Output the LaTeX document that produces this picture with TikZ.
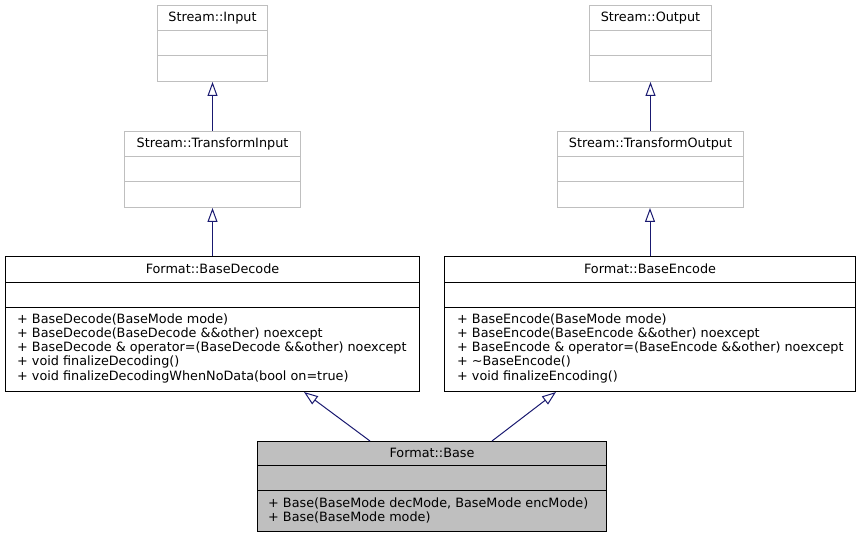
\documentclass[tikz,border=0pt]{standalone}
\usepackage{fontspec}
\setmainfont{DejaVu Sans}
\usetikzlibrary{arrows.meta}
\definecolor{edgeblue}{HTML}{191970}
\definecolor{boxgray}{HTML}{BFBFBF}
\tikzset{
  >={Triangle[open,length=14pt,width=10pt]},
  every node/.style={font=\fontsize{12.8}{14.2}\selectfont},
}
\tikzstyle{cls}=[draw=black,line width=1pt,inner sep=0pt,anchor=north west]
\tikzstyle{ext}=[cls,draw=boxgray]
\tikzstyle{focus}=[cls,fill=boxgray]
\tikzstyle{title}=[anchor=base,inner sep=0pt]
\tikzstyle{members}=[anchor=north west,align=left,inner sep=0pt]
\tikzstyle{inherit}=[edgeblue,line width=1pt,->]

\begin{document}
\begin{tikzpicture}[x=1pt,y=-1pt]
        \useasboundingbox (0,0) rectangle (861,537);
        % stream base classes
        \node[ext,minimum width=110pt,minimum height=76pt] (in) at (157,5) {};
        \node[title] (inT) at ([yshift=-17pt]in.north) {Stream::Input};
        \node[ext,minimum width=176pt,minimum height=76pt] (tin) at (124,131) {};
        \node[title] (tinT) at ([yshift=-17pt]tin.north) {Stream::TransformInput};
        \node[ext,minimum width=122pt,minimum height=76pt] (out) at (589,5) {};
        \node[title] (outT) at ([yshift=-17pt]out.north) {Stream::Output};
        \node[ext,minimum width=186pt,minimum height=76pt] (tout) at (557,131) {};
        \node[title] (toutT) at ([yshift=-17pt]tout.north) {Stream::TransformOutput};
        \foreach \b in {in,tin,out,tout} {
          \draw[boxgray,line width=1pt] ([yshift=-26pt]\b.north west) -- ([yshift=-26pt]\b.north east);
          \draw[boxgray,line width=1pt] ([yshift=-51pt]\b.north west) -- ([yshift=-51pt]\b.north east);
        }
        % format classes
        \node[cls,minimum width=414pt,minimum height=135pt] (dec) at (5,256) {};
        \node[title] (decT) at ([yshift=-17pt]dec.north) {Format::BaseDecode};
        \node[members] (decM) at (17,313.3) {+ BaseDecode(BaseMode mode)\\
          + BaseDecode(BaseDecode \&\&other) noexcept\\
          + BaseDecode \& operator=(BaseDecode \&\&other) noexcept\\
          + void finalizeDecoding()\\
          + void finalizeDecodingWhenNoData(bool on=true)};
        \node[cls,minimum width=411pt,minimum height=135pt] (enc) at (444,256) {};
        \node[title] (encT) at ([yshift=-17pt]enc.north) {Format::BaseEncode};
        \node[members] (encM) at (457,313.3) {+ BaseEncode(BaseMode mode)\\
          + BaseEncode(BaseEncode \&\&other) noexcept\\
          + BaseEncode \& operator=(BaseEncode \&\&other) noexcept\\
          + \textasciitilde BaseEncode()\\
          + void finalizeEncoding()};
        \foreach \b in {dec,enc} {
          \draw[line width=1pt] ([yshift=-26pt]\b.north west) -- ([yshift=-26pt]\b.north east);
          \draw[line width=1pt] ([yshift=-51pt]\b.north west) -- ([yshift=-51pt]\b.north east);
        }
        \node[focus,minimum width=349pt,minimum height=90pt] (base) at (257,441) {};
        \node[title] (baseT) at ([yshift=-16pt]base.north) {Format::Base};
        \node[members] (baseM) at (268,497.3) {+ Base(BaseMode decMode, BaseMode encMode)\\
          + Base(BaseMode mode)};
        \draw[line width=1pt] ([yshift=-24pt]base.north west) -- ([yshift=-24pt]base.north east);
        \draw[line width=1pt] ([yshift=-49pt]base.north west) -- ([yshift=-49pt]base.north east);
        % inheritance
        \draw[inherit] (tin.north) -- (tin.north |- in.south);
        \draw[inherit] (tout.north) -- (tout.north |- out.south);
        \draw[inherit] (dec.north) -- (dec.north |- tin.south);
        \draw[inherit] (enc.north) -- (enc.north |- tout.south);
        \draw[inherit] ([xshift=113pt]base.north west) -- ([xshift=299pt]dec.south west);
        \draw[inherit] ([xshift=235pt]base.north west) -- ([xshift=112pt]enc.south west);
      \end{tikzpicture}
\end{document}
